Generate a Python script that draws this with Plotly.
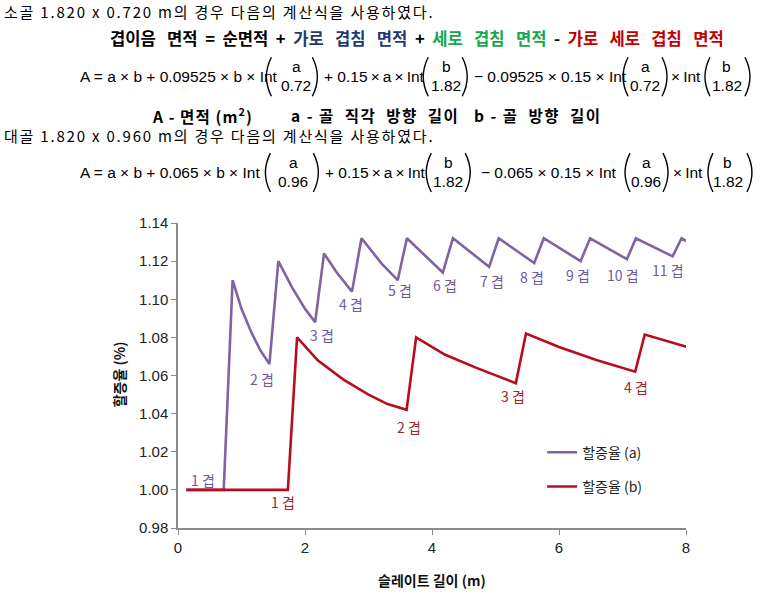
import plotly.graph_objects as go

# ---------------- data ----------------
x_a = [0.13, 0.72, 0.86, 1.00, 1.15, 1.30, 1.44, 1.58, 1.80, 2.00, 2.16, 2.30, 2.50, 2.74,
       2.89, 3.20, 3.46, 3.605, 4.17, 4.33, 4.90, 5.05, 5.61, 5.76, 6.34, 6.49, 7.07, 7.21,
       7.79, 7.93, 8.01]
y_a = [1.000, 1.000, 1.110, 1.095, 1.083, 1.073, 1.066, 1.120, 1.106, 1.095, 1.088, 1.124,
       1.114, 1.104, 1.132, 1.119, 1.110, 1.132, 1.114, 1.132, 1.117, 1.132, 1.119, 1.132,
       1.120, 1.132, 1.121, 1.132, 1.1225, 1.132, 1.1305]

x_b = [0.13, 1.73, 1.875, 2.20, 2.60, 3.00, 3.30, 3.60, 3.75, 4.20, 4.70, 5.32, 5.48, 6.00,
       6.60, 7.20, 7.35, 8.01]
y_b = [1.000, 1.000, 1.080, 1.068, 1.058, 1.050, 1.045, 1.042, 1.080, 1.071, 1.064, 1.056,
       1.082, 1.075, 1.068, 1.062, 1.0815, 1.075]

lab_a_text = ["1 겹", "2 겹", "3 겹", "4 겹", "5 겹", "6 겹", "7 겹", "8 겹", "9 겹", "10 겹", "11 겹"]
lab_a_x = [0.40, 1.33, 2.27, 2.72, 3.50, 4.21, 4.94, 5.57, 6.30, 7.01, 7.72]
lab_a_y = [1.005, 1.058, 1.0815, 1.0975, 1.1047, 1.1073, 1.1096, 1.1117, 1.1126, 1.1126, 1.1152]

lab_b_text = ["1 겹", "2 겹", "3 겹", "4 겹"]
lab_b_x = [1.66, 3.63, 5.27, 7.22]
lab_b_y = [0.9934, 1.0331, 1.0492, 1.0541]

y_ticks = [0.98, 1.00, 1.02, 1.04, 1.06, 1.08, 1.10, 1.12, 1.14]
x_ticks = [0, 2, 4, 6, 8]

series_names = ["할증율 (a)", "할증율 (b)"]

# ---------------- layout helpers ----------------
W, H = 772, 597
ML, MR, MT, MB = 177.5, 86, 223, 68.5
PW, PH = W - ML - MR, H - MT - MB


def px(x):
    return (x - ML) / PW


def py(y):
    return (H - MB - y) / PH


FONT = "Liberation Sans, Arial, Noto Sans CJK KR, sans-serif"
KFONT = "Noto Sans CJK KR, Liberation Sans, sans-serif"
PURPLE = "#7f63a3"
RED = "#b70d1c"
PURPLE_TXT = "#6f5a9c"
RED_TXT = "#9a2a2c"
NB = "\u00a0"
TH = "\u2009"

fig = go.Figure()
fig.add_trace(go.Scatter(x=x_a, y=y_a, mode="lines", name=series_names[0],
                         line=dict(color=PURPLE, width=2.6), legendgroup="a"))
fig.add_trace(go.Scatter(x=x_b, y=y_b, mode="lines", name=series_names[1],
                         line=dict(color=RED, width=2.6), legendgroup="b"))

ann = []
shapes = []

for t, xx, yy in zip(lab_a_text, lab_a_x, lab_a_y):
    ann.append(dict(x=xx, y=yy, xref="x", yref="y", text=t, showarrow=False,
                    font=dict(family=KFONT, size=14, color=PURPLE_TXT)))
for t, xx, yy in zip(lab_b_text, lab_b_x, lab_b_y):
    ann.append(dict(x=xx, y=yy, xref="x", yref="y", text=t, showarrow=False,
                    font=dict(family=KFONT, size=14, color=RED_TXT)))


def text_px(x, y, text, size=14, anchor="left", family=KFONT, color="black", angle=0):
    ann.append(dict(x=px(x), y=py(y), xref="paper", yref="paper", text=text,
                    showarrow=False, xanchor=anchor, yanchor="middle", textangle=angle,
                    font=dict(family=family, size=size, color=color)))


def paren(x0, x1, yt, yb, left=True):
    ym = (yt + yb) / 2
    if left:
        path = f"M {px(x1)},{py(yt)} Q {px(x0 - 2)},{py(ym)} {px(x1)},{py(yb)}"
    else:
        path = f"M {px(x0)},{py(yt)} Q {px(x1 + 2)},{py(ym)} {px(x0)},{py(yb)}"
    shapes.append(dict(type="path", path=path, xref="paper", yref="paper",
                       line=dict(color="black", width=1.4)))


FS = 15.5


def frac(cx, yc, num, den):
    text_px(cx, yc - 10, num, size=FS, anchor="center", family=FONT)
    text_px(cx, yc + 9, den, size=FS, anchor="center", family=FONT)


def formula(yc, c1, d1, segs, gap):
    def mul(g, *parts):
        return (g + "×" + g).join(parts)
    s1x, p1, f1, p2, s2x, p3, f2, p4, s3x, p5, f3, p6, s4x, p7, f4, p8 = segs
    yt, yb = yc - 19, yc + 20
    text_px(s1x, yc, "A = " + mul(gap, "a", "b") + " + " + mul(gap, c1, "b", "Int"),
            size=FS, family=FONT)
    paren(p1, p1 + 8, yt, yb, True)
    frac(f1, yc, "a", d1)
    paren(p2, p2 + 8, yt, yb, False)
    text_px(s2x, yc, "+ " + mul(TH, "0.15", "a", "Int"), size=FS, family=FONT)
    paren(p3, p3 + 8, yt, yb, True)
    frac(f2, yc, "b", "1.82")
    paren(p4, p4 + 8, yt, yb, False)
    text_px(s3x, yc, "− " + mul(gap, c1, "0.15", "Int"), size=FS, family=FONT)
    paren(p5, p5 + 8, yt, yb, True)
    frac(f3, yc, "a", d1)
    paren(p6, p6 + 8, yt, yb, False)
    text_px(s4x, yc, "×" + TH + "Int", size=FS, family=FONT)
    paren(p7, p7 + 8, yt, yb, True)
    frac(f4, yc, "b", "1.82")
    paren(p8, p8 + 8, yt, yb, False)


def sp(n):
    return NB * n


def ls(text, px_sp):
    return f"<span style='letter-spacing:{px_sp}px'>{text}</span>"


W3, S2 = sp(3), sp(2)
# top text block
text_px(1, 11, ls("소골 1.820 x 0.720 m의 경우 다음의 계산식을 사용하였다.", 1.8), size=15)
line2 = (f"<b>겹이음{W3}면적{S2}={S2}순면적{S2}+{S2}"
         f"<span style='color:#1f3a6e'>가로{W3}겹침{W3}면적</span>{S2}+{S2}"
         f"<span style='color:#12a84c'>세로{W3}겹침{W3}면적</span>{S2}-{S2}"
         f"<span style='color:#c00000'>가로{W3}세로{W3}겹침{W3}면적</span></b>")
text_px(107, 38, line2, size=16.6, anchor="left")
formula(76, "0.09525", "0.72",
        [77, 263, 296, 312, 322, 420, 446, 462, 472, 620, 645, 662, 669, 702, 727, 745], " ")
text_px(149, 115, ls(f"<b>A - 면적{NB}(m<sup>2</sup>)</b>", 1.1), size=15.5)
text_px(289, 115, ls(f"<b>a - 골{S2}직각{S2}방향{S2}길이</b>", 1.5), size=15.5)
text_px(472, 115, ls(f"<b>b - 골{S2}방향{S2}길이</b>", 1.5), size=15.5)
text_px(1, 135, ls("대골 1.820 x 0.960 m의 경우 다음의 계산식을 사용하였다.", 1.8), size=15)
formula(172, "0.065", "0.96",
        [77, 262, 293, 313, 323, 423, 448, 465, 479, 622, 646, 663, 671, 705, 728, 747], " ")

# axis titles
text_px(ML + PW / 2, 581, "<b>슬레이트 길이 (m)</b>", size=14, anchor="center", color="#111")
text_px(118, 375, "<b>할증율 (%)</b>", size=14, anchor="center", color="#111", angle=-90)

fig.update_layout(
    width=W, height=H,
    margin=dict(l=ML, r=MR, t=MT, b=MB, pad=0),
    paper_bgcolor="white", plot_bgcolor="white",
    font=dict(family=KFONT, size=14, color="#222"),
    showlegend=True,
    legend=dict(x=px(542), y=py(437), xanchor="left", yanchor="top",
                bgcolor="rgba(0,0,0,0)", font=dict(family=KFONT, size=14, color="#222"),
                tracegroupgap=13, itemwidth=30),
    annotations=ann,
    shapes=shapes,
    xaxis=dict(range=[0, 8], tickvals=x_ticks, showgrid=False, zeroline=False,
               showline=True, linecolor="#8a8a8a", linewidth=1.5, automargin=False,
               ticks="outside", ticklen=5, tickcolor="#8a8a8a",
               tickfont=dict(family=FONT, size=15, color="#222")),
    yaxis=dict(range=[0.98, 1.14], tickvals=y_ticks, tickformat=".2f", showgrid=False,
               zeroline=False, showline=True, linecolor="#8a8a8a", linewidth=1.5,
               automargin=False, ticks="outside", ticklen=5, tickcolor="#8a8a8a",
               tickfont=dict(family=FONT, size=15, color="#222")),
)

fig.write_html("out.html", config={"displayModeBar": False},
               post_script="document.body.style.margin='0px';document.body.style.padding='0px';")
